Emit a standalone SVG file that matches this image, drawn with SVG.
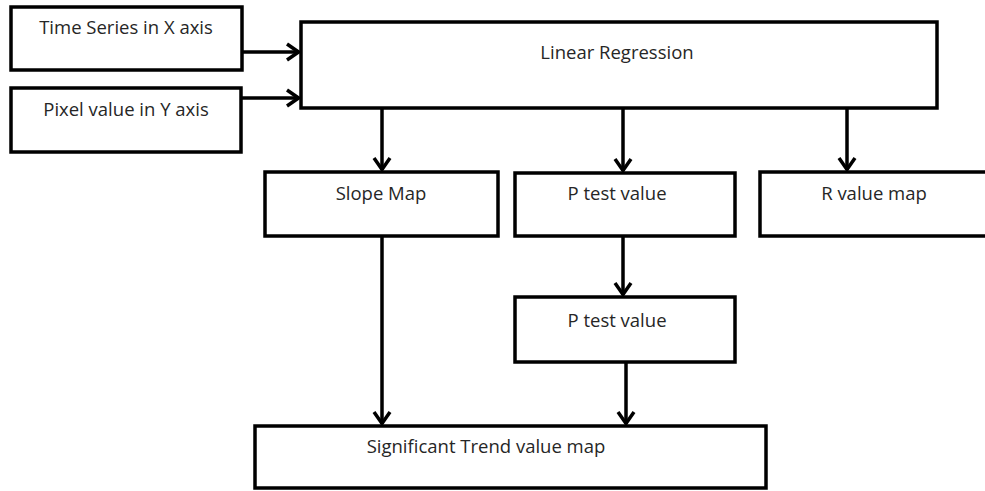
<svg xmlns="http://www.w3.org/2000/svg" width="985" height="491" viewBox="0 0 985 491">
<defs>
<style>
.box{fill:#fff;stroke:#000;stroke-width:3.5}
.t{font-family:"Open Sans","Liberation Sans",sans-serif;font-size:18.5px;fill:#262626;text-anchor:middle}
.c{stroke:#000;stroke-width:3.5;fill:none}
</style>
<marker id="ah" viewBox="0 0 16 20" refX="14" refY="10" markerWidth="16" markerHeight="20" markerUnits="userSpaceOnUse" orient="auto">
<path d="M2,2 L13.5,10 L2,18" fill="none" stroke="#000" stroke-width="3.5"/>
</marker>
</defs>
<rect width="985" height="491" fill="#fff"/>
<g id="connectors">
<line class="c" x1="242" y1="52" x2="299" y2="52" marker-end="url(#ah)"/>
<line class="c" x1="241" y1="98" x2="299" y2="98" marker-end="url(#ah)"/>
<line class="c" x1="382" y1="108" x2="382" y2="170" marker-end="url(#ah)"/>
<line class="c" x1="623" y1="108" x2="623" y2="171" marker-end="url(#ah)"/>
<line class="c" x1="847" y1="108" x2="847" y2="170" marker-end="url(#ah)"/>
<line class="c" x1="623" y1="236" x2="623" y2="295" marker-end="url(#ah)"/>
<line class="c" x1="382" y1="236" x2="382" y2="424" marker-end="url(#ah)"/>
<line class="c" x1="626" y1="362" x2="626" y2="424" marker-end="url(#ah)"/>
</g>
<g id="time-series"><rect class="box" x="11" y="7" width="231" height="63"/><text class="t" x="126" y="34">Time Series in X axis</text></g>
<g id="pixel-value"><rect class="box" x="11" y="88" width="230" height="64"/><text class="t" x="126" y="116">Pixel value in Y axis</text></g>
<g id="linear-regression"><rect class="box" x="301" y="22" width="636" height="86"/><text class="t" x="617" y="59">Linear Regression</text></g>
<g id="slope-map"><rect class="box" x="265" y="172" width="233" height="64"/><text class="t" x="381" y="200">Slope Map</text></g>
<g id="p-test-1"><rect class="box" x="515" y="173" width="220" height="63"/><text class="t" x="617" y="200">P test value</text></g>
<g id="r-value-map"><rect class="box" x="760" y="172" width="230" height="64"/><text class="t" x="874" y="200">R value map</text></g>
<g id="p-test-2"><rect class="box" x="515" y="297" width="220" height="65"/><text class="t" x="617" y="327">P test value</text></g>
<g id="significant-trend"><rect class="box" x="255" y="426" width="511" height="62"/><text class="t" x="486" y="453">Significant Trend value map</text></g>
</svg>
